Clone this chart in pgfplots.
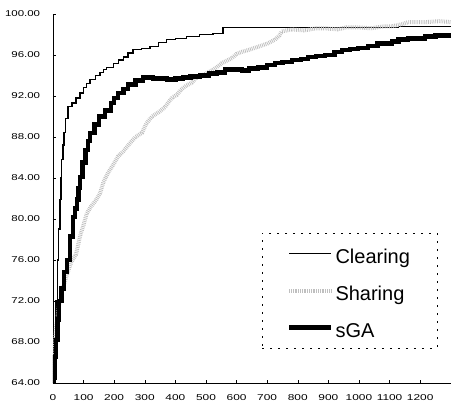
\documentclass[border=0pt]{standalone}
\usepackage{fontspec}
\setmainfont{Liberation Sans}
\usepackage{pgfplots}
\pgfplotsset{compat=1.18}
\begin{document}
\begin{tikzpicture}
\begin{axis}[
  scale only axis, width=398pt, height=369pt,
  xmin=0, xmax=1300, ymin=64, ymax=100,
  axis x line*=bottom, axis y line*=left,
  axis line style={line width=0.5pt},
  xtick={0,100,...,1200}, ytick={64,68,...,100},
  tick align=inside, major tick length=3pt,
  tick style={black, line width=0.5pt},
  /pgf/number format/assume math mode=true,
  /pgf/number format/1000 sep={},
  yticklabel style={/pgf/number format/.cd, fixed, fixed zerofill, precision=2, /tikz/.cd,
     font=\fontsize{8.5}{10}\selectfont, xscale=1.35, xshift=-6pt},
  xticklabel style={font=\fontsize{8.5}{10}\selectfont, xscale=1.4, yshift=-8pt},
  legend style={at={(axis description cs:0.525,0.4065)}, anchor=north west,
     draw=black, line width=0.5pt, dash pattern=on 2pt off 6pt,
     inner xsep=25pt, inner ysep=5pt, font=\fontsize{20}{24}\selectfont,
     row sep=6pt, nodes={inner sep=2pt, text height=23pt, text depth=4pt}},
  legend cell align=left,
  legend image code/.code={\draw[#1] (0pt,0pt) -- (42pt,0pt);},
]
\addplot[const plot, black, solid, line width=1.3pt] coordinates {
(0,64) (3,66) (6,68.2) (10,72) (14,76) (18,79) (23,81.9) (26,84) (29,85.8) (33,87.2)
(36,88.4) (42,89.8) (49,91.0) (62,91.3) (75,91.8) (88,92.3) (100,92.8) (110,93.2)
(121,93.6) (140,94.0) (154,94.3) (165,94.6) (175,94.8) (197,95.2) (215,95.5) (230,95.8)
(245,96.2) (262,96.5) (290,96.6) (317,96.8) (345,97.2) (372,97.5) (400,97.6) (437,97.8)
(480,98.0) (523,98.1) (556,98.7) (750,98.7) (1130,98.8) (1300,98.8)};
\addlegendentry{Clearing}
\addplot[gray!50, line width=4pt, dash pattern=on 0.8pt off 1pt] coordinates {
(0,64.0) (5,67) (10,69.5) (20,71.5) (30,73) (45,74.5) (60,75.8) (75,76.5) (90,78.5)
(98,79.2) (110,80.5) (124,81.2) (140,81.8) (154,82.5) (165,83.6) (180,84.5) (195,85.2)
(213,86.1) (230,86.6) (252,87.4) (270,88.0) (291,88.4) (305,89.3) (324,90.0) (345,90.4)
(366,90.9) (380,91.5) (392,91.9) (405,92.1) (418,92.6) (435,93.0) (454,93.3) (466,93.7)
(480,93.9) (500,94.2) (520,94.5) (535,94.8) (552,95.2) (585,95.7) (600,96.1) (617,96.3)
(640,96.5) (670,96.8) (700,97.1) (726,97.5) (740,97.9) (748,98.3) (781,98.5) (820,98.4)
(860,98.6) (889,98.6) (930,98.5) (960,98.7) (997,98.7) (1040,98.6) (1080,98.8) (1108,98.8)
(1140,99.0) (1160,99.2) (1216,99.2) (1265,99.3) (1300,99.2)};
\addlegendentry{Sharing}
\addplot[const plot, black, solid, line width=4.5pt] coordinates {
(0,64) (1,64.5) (5,66.5) (10,68.2) (15,70.2) (20,72.0) (28,73.2) (36,74.8) (46,76)
(55,78.3) (65,80.2) (72,81.0) (78,81.9) (84,83.0) (88,84.1) (97,85.5) (107,86.7)
(114,87.6) (121,88.4) (135,89.2) (150,90.0) (170,90.6) (190,91.3) (200,91.8) (213,92.3)
(230,92.7) (245,93.1) (270,93.5) (294,93.8) (327,93.7) (372,93.6) (400,93.7) (425,93.8)
(450,93.9) (480,94.0) (510,94.2) (536,94.3) (562,94.6) (617,94.5) (640,94.7) (670,94.8)
(700,95.0) (726,95.2) (750,95.3) (781,95.5) (810,95.6) (834,95.8) (860,95.9) (889,96.0)
(920,96.3) (944,96.5) (970,96.6) (997,96.7) (1030,96.9) (1060,97.1) (1108,97.3)
(1130,97.5) (1160,97.6) (1216,97.8) (1250,97.9) (1300,97.95)};
\addlegendentry{sGA}
\end{axis}
\path[use as bounding box] (-53pt,-22pt) rectangle (398pt,383pt);
\end{tikzpicture}
\end{document}
